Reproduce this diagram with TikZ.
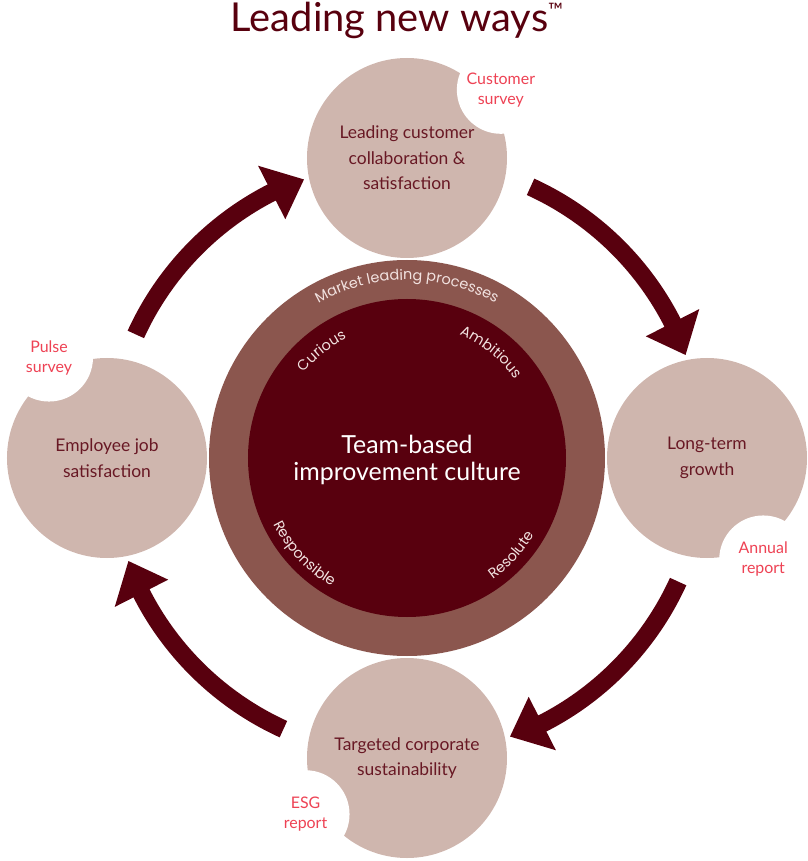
\documentclass[tikz,border=0pt]{standalone}
\usepackage{fontspec}
\setmainfont{Lato}
\newfontfamily\ringfont{Poppins}
\usetikzlibrary{decorations.text}

\definecolor{maroon}{RGB}{88,0,14}
\definecolor{ringbrown}{RGB}{139,86,78}
\definecolor{blush}{RGB}{207,182,174}
\definecolor{wine}{RGB}{104,24,36}
\definecolor{coral}{RGB}{238,66,84}
\definecolor{ringtext}{RGB}{242,226,224}

\tikzset{
  stage/.style={circle, fill=blush, minimum size=200bp, inner sep=0pt, text=wine,
    align=center, font=\fontsize{17.5}{25.5}\selectfont},
  note/.style={circle, fill=white, minimum size=88bp, inner sep=0pt, text=coral,
    align=center, font=\fontsize{16}{20}\selectfont},
  flow/.style={fill=maroon},
  ringword/.style={decorate, decoration={text along path, text align=center,
    text={|\ringfont\fontsize{14.5}{16}\selectfont\color{ringtext}|#1}}}
}

\begin{document}
\begin{tikzpicture}[x=1bp, y=1bp]
    \useasboundingbox (-407,-403) rectangle (401,458);
    % Heading
    \node[text=maroon, font=\fontsize{40}{40}\selectfont] (heading) at (-10,438)
        {Leading new ways\raisebox{14bp}{\fontsize{20}{20}\selectfont ™}};
    % Core: outer ring and inner disc
    \fill[ringbrown] (0,0) circle (198);
    \fill[maroon] (0,0) circle (159);
    \node[text=white, align=center, font=\fontsize{25}{28}\selectfont] (culture) at (0,-2) {Team-based\\improvement culture};
    % Words set round the ring
    \path[ringword=Market leading processes] (140:178) arc[start angle=140, end angle=40, radius=178];
    \path[ringword=Curious] (155:134) arc[start angle=155, end angle=102, radius=134];
    \path[ringword=Ambitious] (78:134) arc[start angle=78, end angle=25, radius=134];
    \path[ringword=Responsible] (195:149) arc[start angle=195, end angle=251, radius=149];
    \path[ringword=Resolute] (289:149) arc[start angle=289, end angle=345, radius=149];
    % Curved arrows, one per quarter
    \foreach \ang in {0,90,180,270}{
        \fill[flow] ({\ang+65.5}:307) arc[start angle=\ang+65.5, end angle=\ang+27, radius=307]
            -- ({\ang+27}:328) -- ({\ang+20.3}:297) -- ({\ang+27}:268) -- ({\ang+27}:289)
            arc[start angle=\ang+27, end angle=\ang+65.5, radius=289] -- cycle;
    }
    % Stages
    \node[stage] (customer) at (0,300) {Leading customer\\collaboration \&\\satisfaction};
    \node[stage] (growth) at (300,0) {Long-term\\growth};
    \node[stage] (esg) at (0,-300) {Targeted corporate\\sustainability};
    \node[stage] (staff) at (-300,0) {Employee job\\satisfaction};
    % Notes bitten out of the stages
    \node[note] (survey) at ([shift={(36:116)}]customer.center) {Customer\\survey};
    \node[note] (annual) at ([shift={(-61:116)}]growth.center) {Annual\\report};
    \node[note] (esgreport) at ([shift={(209:116)}]esg.center) {ESG\\report};
    \node[note] (pulse) at ([shift={(120:116)}]staff.center) {Pulse\\survey};
\end{tikzpicture}
\end{document}
